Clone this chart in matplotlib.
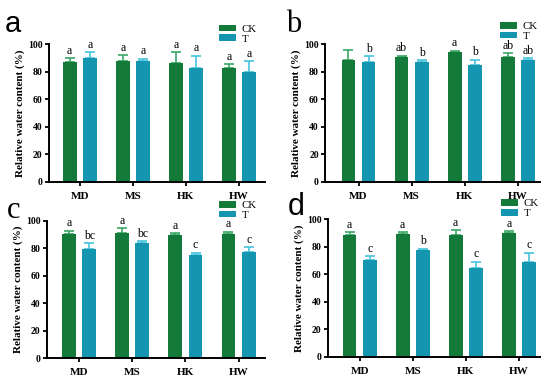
import matplotlib
matplotlib.use("Agg")
import matplotlib.pyplot as plt
from matplotlib.patches import Patch
import numpy as np

cultivars = ["MD", "MS", "HK", "HW"]
series = ["CK", "T"]

# panel a
a_ck = [87.4, 88.0, 86.7, 82.6]
a_ck_err = [2.4, 4.3, 7.5, 2.9]
a_t = [90.0, 88.0, 82.6, 80.1]
a_t_err = [4.2, 1.6, 9.2, 7.8]
a_ck_lab = ["a", "a", "a", "a"]
a_t_lab = ["a", "a", "a", "a"]

# panel b
b_ck = [88.6, 90.3, 94.0, 90.8]
b_ck_err = [6.8, 1.2, 1.2, 2.4]
b_t = [86.9, 86.7, 84.7, 88.1]
b_t_err = [4.4, 1.7, 3.9, 1.5]
b_ck_lab = ["", "ab", "a", "ab"]
b_t_lab = ["b", "b", "b", "ab"]

# panel c
c_ck = [90.5, 91.0, 90.0, 90.8]
c_ck_err = [2.5, 3.7, 1.3, 1.4]
c_t = [79.4, 83.7, 75.2, 77.2]
c_t_err = [4.3, 1.5, 1.8, 3.6]
c_ck_lab = ["a", "a", "a", "a"]
c_t_lab = ["bc", "bc", "c", "c"]

# panel d
d_ck = [88.8, 89.3, 88.8, 89.8]
d_ck_err = [2.0, 1.5, 3.4, 1.7]
d_t = [70.4, 77.4, 64.8, 68.9]
d_t_err = [2.6, 1.2, 4.4, 6.8]
d_ck_lab = ["a", "a", "a", "a"]
d_t_lab = ["c", "b", "c", "c"]

yticks = [0, 20, 40, 60, 80, 100]
ylabel = "Relative water content (%)"

ck_color = "#137a3a"
t_color = "#1496b0"
ck_err_color = "#3aa766"
t_err_color = "#45c4dc"

serif = "Liberation Serif"
sans = "Liberation Sans"

panels = [
    dict(name="a", ck=a_ck, cke=a_ck_err, t=a_t, te=a_t_err, ckl=a_ck_lab, tl=a_t_lab,
         rect=[0.089, 0.5236, 0.393, 0.360], xlim=(-0.58, 3.49), lab_xy=(0.008, 0.975), lab_font=sans, lab_size=21,
         leg=(0.398, 0.935)),
    dict(name="b", ck=b_ck, cke=b_ck_err, t=b_t, te=b_t_err, ckl=b_ck_lab, tl=b_t_lab,
         rect=[0.591, 0.5236, 0.391, 0.361], xlim=(-0.63, 3.42), lab_xy=(0.520, 0.975), lab_font=serif, lab_size=22,
         leg=(0.909, 0.942)),
    dict(name="c", ck=c_ck, cke=c_ck_err, t=c_t, te=c_t_err, ckl=c_ck_lab, tl=c_t_lab,
         rect=[0.085, 0.062, 0.397, 0.3595], xlim=(-0.61, 3.5), lab_xy=(0.012, 0.487), lab_font=serif, lab_size=22,
         leg=(0.398, 0.473)),
    dict(name="d", ck=d_ck, cke=d_ck_err, t=d_t, te=d_t_err, ckl=d_ck_lab, tl=d_t_lab,
         rect=[0.596, 0.066, 0.386, 0.360], xlim=(-0.6, 3.4), lab_xy=(0.524, 0.497), lab_font=sans, lab_size=22,
         leg=(0.911, 0.478)),
]

fig = plt.figure(figsize=(5.5, 3.82), dpi=100)

x = np.arange(len(cultivars))
off = 0.19
w = 0.26

for p in panels:
    ax = fig.add_axes(p["rect"])
    ax.bar(x - off, p["ck"], width=w, color=ck_color, zorder=2)
    ax.bar(x + off, p["t"], width=w, color=t_color, zorder=2)
    ax.errorbar(x - off, p["ck"], yerr=[np.zeros(4), p["cke"]], fmt="none",
                ecolor=ck_err_color, elinewidth=1.2, capsize=3.5, capthick=1.2, zorder=1)
    ax.errorbar(x + off, p["t"], yerr=[np.zeros(4), p["te"]], fmt="none",
                ecolor=t_err_color, elinewidth=1.2, capsize=3.5, capthick=1.2, zorder=1)
    for i in range(4):
        ax.annotate(p["ckl"][i], (x[i] - off, p["ck"][i] + p["cke"][i]), xytext=(0, 1),
                    textcoords="offset points", ha="center", va="bottom",
                    fontsize=8.5, family=serif)
        ax.annotate(p["tl"][i], (x[i] + off, p["t"][i] + p["te"][i]), xytext=(0, 1),
                    textcoords="offset points", ha="center", va="bottom",
                    fontsize=8.5, family=serif)
    ax.set_ylim(0, 100)
    ax.set_xlim(*p["xlim"])
    ax.set_yticks(yticks)
    ax.set_yticklabels([str(v) for v in yticks], fontsize=7, family=serif, fontweight="bold")
    ax.set_xticks(x)
    ax.set_xticklabels(cultivars, fontsize=8, family=serif, fontweight="bold")
    ax.tick_params(axis="both", direction="out", length=3, width=1.3, pad=1.5)
    ax.tick_params(axis="x", pad=4)
    for s in ["top", "right"]:
        ax.spines[s].set_visible(False)
    for s in ["left", "bottom"]:
        ax.spines[s].set_linewidth(1.4)
    ax.set_ylabel(ylabel, fontsize=8, family=serif, fontweight="bold", labelpad=2)
    fig.text(p["lab_xy"][0], p["lab_xy"][1], p["name"], fontsize=p["lab_size"],
             family=p["lab_font"], ha="left", va="top")
    handles = [Patch(facecolor=ck_color, label=series[0]), Patch(facecolor=t_color, label=series[1])]
    fig.legend(handles=handles, loc="upper left", bbox_to_anchor=p["leg"], frameon=False,
               prop={"family": serif, "size": 7.8}, handlelength=1.6, handleheight=0.55,
               handletextpad=0.5, labelspacing=0.05, borderpad=0, borderaxespad=0)

fig.savefig("out.png", dpi=100)
